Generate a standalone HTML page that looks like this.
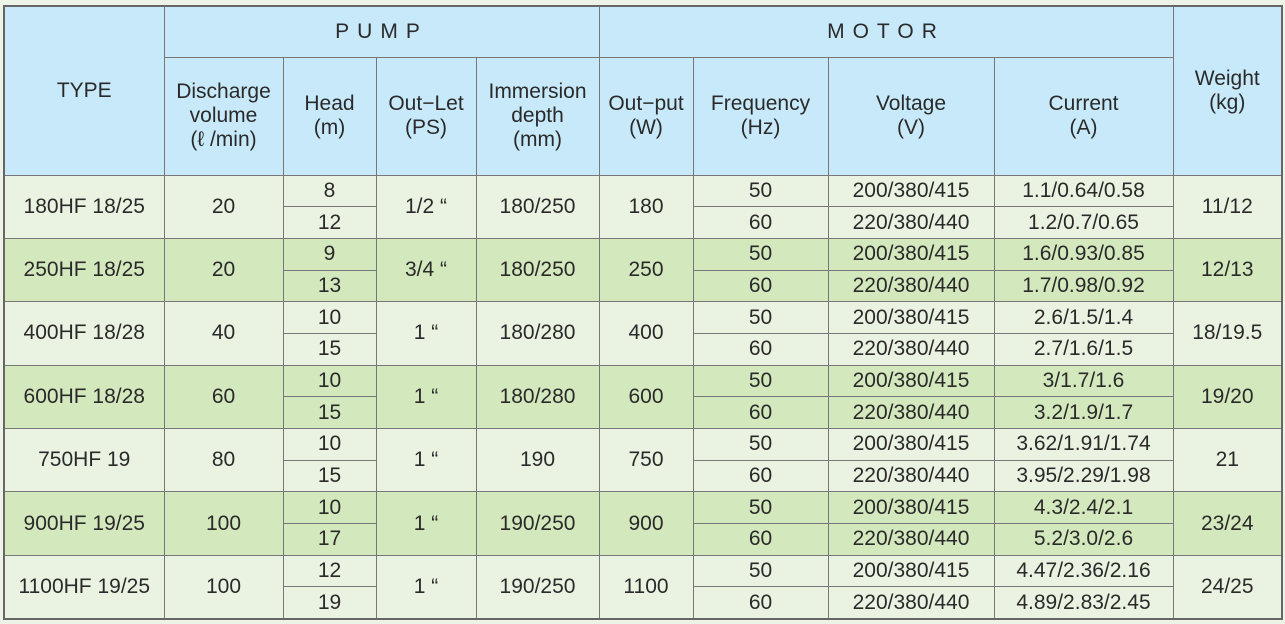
<!DOCTYPE html>
<html><head><meta charset="utf-8"><style>
html,body{margin:0;padding:0;background:#eef3e8;width:1285px;height:624px;overflow:hidden}
table{position:absolute;left:3px;top:5px;border-collapse:collapse;table-layout:fixed;font-family:"Liberation Sans",sans-serif;font-size:21px;color:#2a2a2a;border:2px solid #666}
td{border:1.5px solid #777;text-align:center;vertical-align:middle;padding:0;line-height:24px;white-space:nowrap}
.h td{background:#c7e9f9}
tr.l td{background:#eaf3e1}
tr.d td{background:#d4e8be}
.sp{letter-spacing:8px}
</style></head><body>
<table>
<colgroup><col style="width:160px"><col style="width:119px"><col style="width:93px"><col style="width:100px"><col style="width:123px"><col style="width:94px"><col style="width:135px"><col style="width:166px"><col style="width:179px"><col style="width:109px"></colgroup>
<tr class="h" style="height:51px"><td rowspan="2">TYPE</td><td colspan="4" class="sp">PUMP</td><td colspan="4" class="sp">MOTOR</td><td rowspan="2">Weight<br>(kg)</td></tr>
<tr class="h" style="height:118px"><td>Discharge<br>volume<br>(ℓ /min)</td><td>Head<br>(m)</td><td>Out−Let<br>(PS)</td><td>Immersion<br>depth<br>(mm)</td><td>Out−put<br>(W)</td><td>Frequency<br>(Hz)</td><td>Voltage<br>(V)</td><td>Current<br>(A)</td></tr>
<tr class="l" style="height:31.7px"><td rowspan="2">180HF 18/25</td><td rowspan="2">20</td><td>8</td><td rowspan="2">1/2 “</td><td rowspan="2">180/250</td><td rowspan="2">180</td><td>50</td><td>200/380/415</td><td>1.1/0.64/0.58</td><td rowspan="2">11/12</td></tr>
<tr class="l" style="height:31.7px"><td>12</td><td>60</td><td>220/380/440</td><td>1.2/0.7/0.65</td></tr>
<tr class="d" style="height:31.7px"><td rowspan="2">250HF 18/25</td><td rowspan="2">20</td><td>9</td><td rowspan="2">3/4 “</td><td rowspan="2">180/250</td><td rowspan="2">250</td><td>50</td><td>200/380/415</td><td>1.6/0.93/0.85</td><td rowspan="2">12/13</td></tr>
<tr class="d" style="height:31.7px"><td>13</td><td>60</td><td>220/380/440</td><td>1.7/0.98/0.92</td></tr>
<tr class="l" style="height:31.7px"><td rowspan="2">400HF 18/28</td><td rowspan="2">40</td><td>10</td><td rowspan="2">1 “</td><td rowspan="2">180/280</td><td rowspan="2">400</td><td>50</td><td>200/380/415</td><td>2.6/1.5/1.4</td><td rowspan="2">18/19.5</td></tr>
<tr class="l" style="height:31.7px"><td>15</td><td>60</td><td>220/380/440</td><td>2.7/1.6/1.5</td></tr>
<tr class="d" style="height:31.7px"><td rowspan="2">600HF 18/28</td><td rowspan="2">60</td><td>10</td><td rowspan="2">1 “</td><td rowspan="2">180/280</td><td rowspan="2">600</td><td>50</td><td>200/380/415</td><td>3/1.7/1.6</td><td rowspan="2">19/20</td></tr>
<tr class="d" style="height:31.7px"><td>15</td><td>60</td><td>220/380/440</td><td>3.2/1.9/1.7</td></tr>
<tr class="l" style="height:31.7px"><td rowspan="2">750HF 19</td><td rowspan="2">80</td><td>10</td><td rowspan="2">1 “</td><td rowspan="2">190</td><td rowspan="2">750</td><td>50</td><td>200/380/415</td><td>3.62/1.91/1.74</td><td rowspan="2">21</td></tr>
<tr class="l" style="height:31.7px"><td>15</td><td>60</td><td>220/380/440</td><td>3.95/2.29/1.98</td></tr>
<tr class="d" style="height:31.7px"><td rowspan="2">900HF 19/25</td><td rowspan="2">100</td><td>10</td><td rowspan="2">1 “</td><td rowspan="2">190/250</td><td rowspan="2">900</td><td>50</td><td>200/380/415</td><td>4.3/2.4/2.1</td><td rowspan="2">23/24</td></tr>
<tr class="d" style="height:31.7px"><td>17</td><td>60</td><td>220/380/440</td><td>5.2/3.0/2.6</td></tr>
<tr class="l" style="height:31.7px"><td rowspan="2">1100HF 19/25</td><td rowspan="2">100</td><td>12</td><td rowspan="2">1 “</td><td rowspan="2">190/250</td><td rowspan="2">1100</td><td>50</td><td>200/380/415</td><td>4.47/2.36/2.16</td><td rowspan="2">24/25</td></tr>
<tr class="l" style="height:31.7px"><td>19</td><td>60</td><td>220/380/440</td><td>4.89/2.83/2.45</td></tr>
</table>
</body></html>
